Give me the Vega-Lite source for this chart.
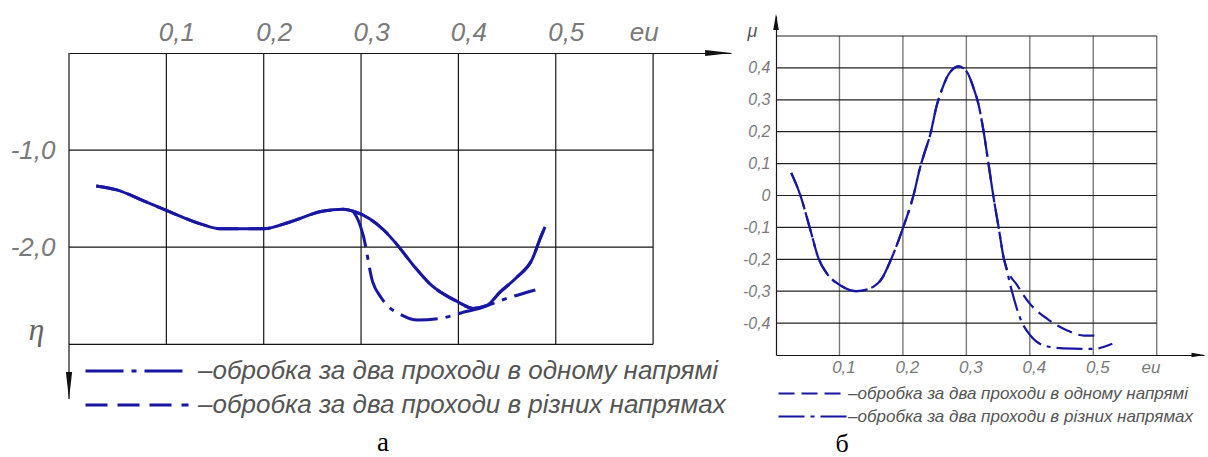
{
  "$schema": "https://vega.github.io/schema/vega-lite/v6.json",
  "background": "white",
  "padding": {"left": 10, "top": 14, "right": 0, "bottom": 0},
  "spacing": 10,
  "config": {
    "view": {"stroke": null},
    "axis": {"grid": false, "ticks": false, "tickSize": 0, "labelFlush": false, "labelOverlap": false}
  },
  "resolve": {
    "scale": {"x": "independent", "y": "independent", "strokeDash": "independent"},
    "legend": {"strokeDash": "independent"},
    "axis": {"x": "independent", "y": "independent"}
  },
  "datasets": {
    "leftV": [
      {"x": 0, "y": 0, "y2": -3.563},
      {"x": 0.1, "y": 0, "y2": -3},
      {"x": 0.2, "y": 0, "y2": -3},
      {"x": 0.3, "y": 0, "y2": -3},
      {"x": 0.4, "y": 0, "y2": -3},
      {"x": 0.5, "y": 0, "y2": -3},
      {"x": 0.6, "y": 0, "y2": -3}
    ],
    "leftH": [
      {"y": -1, "x": 0, "x2": 0.6},
      {"y": -2, "x": 0, "x2": 0.6},
      {"y": -3, "x": 0, "x2": 0.6}
    ],
    "leftCurves": [
      {"series": "обробка за два проходи в різних напрямах", "x": 0.028, "y": -1.37},
      {"series": "обробка за два проходи в різних напрямах", "x": 0.049, "y": -1.41},
      {"series": "обробка за два проходи в різних напрямах", "x": 0.076, "y": -1.52},
      {"series": "обробка за два проходи в різних напрямах", "x": 0.1, "y": -1.62},
      {"series": "обробка за два проходи в різних напрямах", "x": 0.135, "y": -1.76},
      {"series": "обробка за два проходи в різних напрямах", "x": 0.155, "y": -1.81},
      {"series": "обробка за два проходи в різних напрямах", "x": 0.2, "y": -1.81},
      {"series": "обробка за два проходи в різних напрямах", "x": 0.227, "y": -1.74},
      {"series": "обробка за два проходи в різних напрямах", "x": 0.26, "y": -1.63},
      {"series": "обробка за два проходи в різних напрямах", "x": 0.282, "y": -1.61},
      {"series": "обробка за два проходи в різних напрямах", "x": 0.292, "y": -1.63},
      {"series": "обробка за два проходи в різних напрямах", "x": 0.323, "y": -1.82},
      {"series": "обробка за два проходи в різних напрямах", "x": 0.335, "y": -1.95},
      {"series": "обробка за два проходи в різних напрямах", "x": 0.354, "y": -2.19},
      {"series": "обробка за два проходи в різних напрямах", "x": 0.371, "y": -2.38},
      {"series": "обробка за два проходи в різних напрямах", "x": 0.399, "y": -2.56},
      {"series": "обробка за два проходи в різних напрямах", "x": 0.415, "y": -2.63},
      {"series": "обробка за два проходи в різних напрямах", "x": 0.429, "y": -2.6},
      {"series": "обробка за два проходи в різних напрямах", "x": 0.443, "y": -2.46},
      {"series": "обробка за два проходи в різних напрямах", "x": 0.46, "y": -2.31},
      {"series": "обробка за два проходи в різних напрямах", "x": 0.476, "y": -2.12},
      {"series": "обробка за два проходи в різних напрямах", "x": 0.484, "y": -1.91},
      {"series": "обробка за два проходи в різних напрямах", "x": 0.489, "y": -1.79},
      {"series": "обробка за два проходи в одному напрямі", "x": 0.292, "y": -1.63},
      {"series": "обробка за два проходи в одному напрямі", "x": 0.297, "y": -1.72},
      {"series": "обробка за два проходи в одному напрямі", "x": 0.302, "y": -1.87},
      {"series": "обробка за два проходи в одному напрямі", "x": 0.312, "y": -2.36},
      {"series": "обробка за два проходи в одному напрямі", "x": 0.32, "y": -2.51},
      {"series": "обробка за два проходи в одному напрямі", "x": 0.327, "y": -2.6},
      {"series": "обробка за два проходи в одному напрямі", "x": 0.34, "y": -2.69},
      {"series": "обробка за два проходи в одному напрямі", "x": 0.358, "y": -2.75},
      {"series": "обробка за два проходи в одному напрямі", "x": 0.383, "y": -2.73},
      {"series": "обробка за два проходи в одному напрямі", "x": 0.405, "y": -2.67},
      {"series": "обробка за два проходи в одному напрямі", "x": 0.422, "y": -2.63},
      {"series": "обробка за два проходи в одному напрямі", "x": 0.443, "y": -2.55},
      {"series": "обробка за два проходи в одному напрямі", "x": 0.479, "y": -2.44}
    ],
    "leftArrowX": [{"x": 0.667, "y": 0}],
    "leftArrowY": [{"x": 0, "y": -3.424}],
    "rightV": [
      {"x": 0.1, "y": -0.5, "y2": 0.5},
      {"x": 0.2, "y": -0.5, "y2": 0.5},
      {"x": 0.3, "y": -0.5, "y2": 0.5},
      {"x": 0.4, "y": -0.5, "y2": 0.5},
      {"x": 0.5, "y": -0.5, "y2": 0.5},
      {"x": 0.6, "y": -0.5, "y2": 0.5}
    ],
    "rightH": [
      {"y": -0.4, "x": 0, "x2": 0.6},
      {"y": -0.3, "x": 0, "x2": 0.6},
      {"y": -0.2, "x": 0, "x2": 0.6},
      {"y": -0.1, "x": 0, "x2": 0.6},
      {"y": 0, "x": 0, "x2": 0.6},
      {"y": 0.1, "x": 0, "x2": 0.6},
      {"y": 0.2, "x": 0, "x2": 0.6},
      {"y": 0.3, "x": 0, "x2": 0.6},
      {"y": 0.4, "x": 0, "x2": 0.6},
      {"y": 0.5, "x": 0, "x2": 0.6}
    ],
    "rightCurves": [
      {"series": "обробка за два проходи в одному напрямі", "x": 0.024, "y": 0.071},
      {"series": "обробка за два проходи в одному напрямі", "x": 0.038, "y": 0.003},
      {"series": "обробка за два проходи в одному напрямі", "x": 0.054, "y": -0.107},
      {"series": "обробка за два проходи в одному напрямі", "x": 0.067, "y": -0.197},
      {"series": "обробка за два проходи в одному напрямі", "x": 0.08, "y": -0.244},
      {"series": "обробка за два проходи в одному напрямі", "x": 0.101, "y": -0.281},
      {"series": "обробка за два проходи в одному напрямі", "x": 0.127, "y": -0.3},
      {"series": "обробка за два проходи в одному напрямі", "x": 0.148, "y": -0.291},
      {"series": "обробка за два проходи в одному напрямі", "x": 0.167, "y": -0.26},
      {"series": "обробка за два проходи в одному напрямі", "x": 0.182, "y": -0.197},
      {"series": "обробка за два проходи в одному напрямі", "x": 0.201, "y": -0.097},
      {"series": "обробка за два проходи в одному напрямі", "x": 0.217, "y": 0.003},
      {"series": "обробка за два проходи в одному напрямі", "x": 0.227, "y": 0.087},
      {"series": "обробка за два проходи в одному напрямі", "x": 0.235, "y": 0.14},
      {"series": "обробка за два проходи в одному напрямі", "x": 0.243, "y": 0.19},
      {"series": "обробка за два проходи в одному напрямі", "x": 0.253, "y": 0.28},
      {"series": "обробка за два проходи в одному напрямі", "x": 0.262, "y": 0.335},
      {"series": "обробка за два проходи в одному напрямі", "x": 0.272, "y": 0.38},
      {"series": "обробка за два проходи в одному напрямі", "x": 0.288, "y": 0.405},
      {"series": "обробка за два проходи в одному напрямі", "x": 0.301, "y": 0.387},
      {"series": "обробка за два проходи в одному напрямі", "x": 0.311, "y": 0.339},
      {"series": "обробка за два проходи в одному напрямі", "x": 0.319, "y": 0.287},
      {"series": "обробка за два проходи в одному напрямі", "x": 0.327, "y": 0.203},
      {"series": "обробка за два проходи в одному напрямі", "x": 0.335, "y": 0.098},
      {"series": "обробка за два проходи в одному напрямі", "x": 0.343, "y": -0.008},
      {"series": "обробка за два проходи в одному напрямі", "x": 0.351, "y": -0.102},
      {"series": "обробка за два проходи в одному напрямі", "x": 0.359, "y": -0.197},
      {"series": "обробка за два проходи в одному напрямі", "x": 0.362, "y": -0.22},
      {"series": "обробка за два проходи в одному напрямі", "x": 0.38, "y": -0.281},
      {"series": "обробка за два проходи в одному напрямі", "x": 0.4, "y": -0.339},
      {"series": "обробка за два проходи в одному напрямі", "x": 0.427, "y": -0.386},
      {"series": "обробка за два проходи в одному напрямі", "x": 0.459, "y": -0.423},
      {"series": "обробка за два проходи в одному напрямі", "x": 0.485, "y": -0.439},
      {"series": "обробка за два проходи в одному напрямі", "x": 0.511, "y": -0.439},
      {"series": "обробка за два проходи в різних напрямах", "x": 0.024, "y": 0.071},
      {"series": "обробка за два проходи в різних напрямах", "x": 0.038, "y": 0.003},
      {"series": "обробка за два проходи в різних напрямах", "x": 0.054, "y": -0.107},
      {"series": "обробка за два проходи в різних напрямах", "x": 0.067, "y": -0.197},
      {"series": "обробка за два проходи в різних напрямах", "x": 0.08, "y": -0.244},
      {"series": "обробка за два проходи в різних напрямах", "x": 0.101, "y": -0.281},
      {"series": "обробка за два проходи в різних напрямах", "x": 0.127, "y": -0.3},
      {"series": "обробка за два проходи в різних напрямах", "x": 0.148, "y": -0.291},
      {"series": "обробка за два проходи в різних напрямах", "x": 0.167, "y": -0.26},
      {"series": "обробка за два проходи в різних напрямах", "x": 0.182, "y": -0.197},
      {"series": "обробка за два проходи в різних напрямах", "x": 0.201, "y": -0.097},
      {"series": "обробка за два проходи в різних напрямах", "x": 0.217, "y": 0.003},
      {"series": "обробка за два проходи в різних напрямах", "x": 0.227, "y": 0.087},
      {"series": "обробка за два проходи в різних напрямах", "x": 0.235, "y": 0.14},
      {"series": "обробка за два проходи в різних напрямах", "x": 0.243, "y": 0.19},
      {"series": "обробка за два проходи в різних напрямах", "x": 0.253, "y": 0.28},
      {"series": "обробка за два проходи в різних напрямах", "x": 0.262, "y": 0.335},
      {"series": "обробка за два проходи в різних напрямах", "x": 0.272, "y": 0.38},
      {"series": "обробка за два проходи в різних напрямах", "x": 0.288, "y": 0.405},
      {"series": "обробка за два проходи в різних напрямах", "x": 0.301, "y": 0.387},
      {"series": "обробка за два проходи в різних напрямах", "x": 0.311, "y": 0.339},
      {"series": "обробка за два проходи в різних напрямах", "x": 0.319, "y": 0.287},
      {"series": "обробка за два проходи в різних напрямах", "x": 0.327, "y": 0.203},
      {"series": "обробка за два проходи в різних напрямах", "x": 0.335, "y": 0.098},
      {"series": "обробка за два проходи в різних напрямах", "x": 0.343, "y": -0.008},
      {"series": "обробка за два проходи в різних напрямах", "x": 0.351, "y": -0.102},
      {"series": "обробка за два проходи в різних напрямах", "x": 0.359, "y": -0.197},
      {"series": "обробка за два проходи в різних напрямах", "x": 0.362, "y": -0.22},
      {"series": "обробка за два проходи в різних напрямах", "x": 0.372, "y": -0.302},
      {"series": "обробка за два проходи в різних напрямах", "x": 0.385, "y": -0.386},
      {"series": "обробка за два проходи в різних напрямах", "x": 0.401, "y": -0.439},
      {"series": "обробка за два проходи в різних напрямах", "x": 0.422, "y": -0.47},
      {"series": "обробка за два проходи в різних напрямах", "x": 0.453, "y": -0.479},
      {"series": "обробка за два проходи в різних напрямах", "x": 0.501, "y": -0.481},
      {"series": "обробка за два проходи в різних напрямах", "x": 0.516, "y": -0.475},
      {"series": "обробка за два проходи в різних напрямах", "x": 0.53, "y": -0.465}
    ],
    "rightArrowX": [{"x": 0.665, "y": -0.5}],
    "rightArrowY": [{"x": 0, "y": 0.5435}]
  },
  "hconcat": [
    {
      "width": 662,
      "height": 383,
      "title": {"text": "а", "orient": "bottom", "anchor": "middle", "frame": "group", "dx": -17, "offset": 12, "font": "Liberation Serif", "fontSize": 27, "fontWeight": "normal", "color": "#000000"},
      "layer": [
        {
          "data": {"name": "leftV"},
          "mark": {"type": "rule", "color": "#151515", "strokeWidth": 1.2},
          "encoding": {
            "x": {"field": "x", "type": "quantitative", "scale": {"domain": [0, 0.68], "nice": false, "zero": false},
              "axis": {"orient": "top", "offset": -37, "values": [0.1, 0.2, 0.3, 0.4, 0.5, 0.58],
                "labelExpr": "datum.value > 0.55 ? 'eи' : replace(format(datum.value, '.1f'), '.', ',')",
                "labelFont": "Liberation Sans", "labelFontStyle": "italic", "labelFontSize": 26, "labelColor": "#7a7a7a",
                "labelPadding": 13, "labelBaseline": "alphabetic", "labelOffset": 10,
                "ticks": false, "tickSize": 0, "grid": false, "domain": true, "domainColor": "#151515", "domainWidth": 1.2, "title": null}},
            "y": {"field": "y", "type": "quantitative", "scale": {"domain": [-3.563, 0.381], "nice": false, "zero": false},
              "axis": {"orient": "left", "values": [-1, -2],
                "labelExpr": "replace(replace(format(datum.value, '.1f'), '.', ','), '−', '-')",
                "labelFont": "Liberation Sans", "labelFontStyle": "italic", "labelFontSize": 26, "labelColor": "#7a7a7a",
                "labelPadding": 14, "labelBaseline": "middle",
                "ticks": false, "tickSize": 0, "grid": false, "domain": false,
                "title": "η", "titleFont": "Liberation Serif", "titleFontStyle": "italic", "titleFontWeight": "normal", "titleFontSize": 32, "titleColor": "#666666",
                "titleAngle": 0, "titleX": -33, "titleY": 313, "titleAlign": "center", "titleBaseline": "middle"}},
            "y2": {"field": "y2"}
          }
        },
        {
          "data": {"name": "leftH"},
          "mark": {"type": "rule", "color": "#151515", "strokeWidth": 1.2},
          "encoding": {
            "x": {"field": "x", "type": "quantitative", "scale": {"domain": [0, 0.68], "nice": false, "zero": false}},
            "x2": {"field": "x2"},
            "y": {"field": "y", "type": "quantitative", "scale": {"domain": [-3.563, 0.381], "nice": false, "zero": false}}
          }
        },
        {
          "data": {"name": "leftCurves"},
          "mark": {"type": "line", "color": "#1717a3", "strokeWidth": 3, "interpolate": "monotone"},
          "encoding": {
            "x": {"field": "x", "type": "quantitative", "scale": {"domain": [0, 0.68], "nice": false, "zero": false}},
            "y": {"field": "y", "type": "quantitative", "scale": {"domain": [-3.563, 0.381], "nice": false, "zero": false}},
            "strokeDash": {"field": "series", "type": "nominal",
              "scale": {"domain": ["обробка за два проходи в одному напрямі", "обробка за два проходи в різних напрямах"], "range": [[38, 8, 5, 8], [22, 10]]},
              "legend": {"title": null, "orient": "none", "legendX": 55, "legendY": 342, "direction": "vertical",
                "symbolType": "M-10.3,0H10.3", "symbolSize": 100, "symbolStrokeWidth": 3, "symbolStrokeColor": "#1717a3",
                "labelFont": "Liberation Sans", "labelFontStyle": "italic", "labelFontSize": 26, "labelColor": "#555555",
                "labelLimit": 700, "labelOffset": 48, "rowPadding": 8, "padding": 0,
                "labelExpr": "'–' + datum.label"}}
          }
        },
        {
          "data": {"name": "leftCurves"},
          "transform": [{"filter": {"field": "series", "equal": "обробка за два проходи в різних напрямах"}}],
          "mark": {"type": "line", "color": "#1717a3", "strokeWidth": 3, "interpolate": "monotone"},
          "encoding": {
            "x": {"field": "x", "type": "quantitative", "scale": {"domain": [0, 0.68], "nice": false, "zero": false}},
            "y": {"field": "y", "type": "quantitative", "scale": {"domain": [-3.563, 0.381], "nice": false, "zero": false}}
          }
        },
        {
          "data": {"name": "leftArrowX"},
          "mark": {"type": "point", "shape": "M-1,-0.23L1,0L-1,0.23Z", "size": 700, "filled": true, "color": "#111111", "opacity": 1},
          "encoding": {
            "x": {"field": "x", "type": "quantitative", "scale": {"domain": [0, 0.68], "nice": false, "zero": false}},
            "y": {"field": "y", "type": "quantitative", "scale": {"domain": [-3.563, 0.381], "nice": false, "zero": false}}
          }
        },
        {
          "data": {"name": "leftArrowY"},
          "mark": {"type": "point", "shape": "M-0.23,-1L0,1L0.23,-1Z", "size": 729, "filled": true, "color": "#111111", "opacity": 1},
          "encoding": {
            "x": {"field": "x", "type": "quantitative", "scale": {"domain": [0, 0.68], "nice": false, "zero": false}},
            "y": {"field": "y", "type": "quantitative", "scale": {"domain": [-3.563, 0.381], "nice": false, "zero": false}}
          }
        }
      ]
    },
    {
      "width": 428,
      "height": 339,
      "title": {"text": "б", "orient": "bottom", "anchor": "middle", "frame": "group", "dx": -148, "offset": 6, "font": "Liberation Serif", "fontSize": 26, "fontWeight": "normal", "color": "#000000"},
      "layer": [
        {
          "data": {"name": "rightV"},
          "mark": {"type": "rule", "color": "#7a7a7a", "strokeWidth": 1.4},
          "encoding": {
            "x": {"field": "x", "type": "quantitative", "scale": {"domain": [0, 0.6745], "nice": false, "zero": false},
              "axis": {"orient": "bottom", "values": [0.1, 0.2, 0.3, 0.4, 0.5, 0.584],
                "labelExpr": "datum.value > 0.55 ? 'eи' : replace(format(datum.value, '.1f'), '.', ',')",
                "labelFont": "Liberation Sans", "labelFontStyle": "italic", "labelFontSize": 17, "labelColor": "#7a7a7a",
                "labelPadding": 4, "labelBaseline": "top", "labelOffset": 4,
                "ticks": false, "tickSize": 0, "grid": false, "domain": true, "domainColor": "#151515", "domainWidth": 1.2, "title": null}},
            "y": {"field": "y", "type": "quantitative", "scale": {"domain": [-0.5, 0.5627], "nice": false, "zero": false},
              "axis": {"orient": "left", "values": [-0.4, -0.3, -0.2, -0.1, 0, 0.1, 0.2, 0.3, 0.4],
                "labelExpr": "datum.value == 0 ? '0' : replace(replace(format(datum.value, '.1f'), '.', ','), '−', '-')",
                "labelFont": "Liberation Sans", "labelFontStyle": "italic", "labelFontSize": 16, "labelColor": "#7a7a7a",
                "labelPadding": 6, "labelBaseline": "middle",
                "ticks": false, "tickSize": 0, "grid": false, "domain": true, "domainColor": "#151515", "domainWidth": 1.2,
                "title": "μ", "titleFont": "Liberation Sans", "titleFontStyle": "italic", "titleFontWeight": "normal", "titleFontSize": 18, "titleColor": "#555555",
                "titleAngle": 0, "titleX": -24, "titleY": 15, "titleAlign": "center", "titleBaseline": "middle"}},
            "y2": {"field": "y2"}
          }
        },
        {
          "data": {"name": "rightH"},
          "mark": {"type": "rule", "color": "#222222", "strokeWidth": 1.2},
          "encoding": {
            "x": {"field": "x", "type": "quantitative", "scale": {"domain": [0, 0.6745], "nice": false, "zero": false}},
            "x2": {"field": "x2"},
            "y": {"field": "y", "type": "quantitative", "scale": {"domain": [-0.5, 0.5627], "nice": false, "zero": false}}
          }
        },
        {
          "data": {"name": "rightCurves"},
          "mark": {"type": "line", "color": "#1717a3", "strokeWidth": 2.2, "interpolate": "monotone"},
          "encoding": {
            "x": {"field": "x", "type": "quantitative", "scale": {"domain": [0, 0.6745], "nice": false, "zero": false}},
            "y": {"field": "y", "type": "quantitative", "scale": {"domain": [-0.5, 0.5627], "nice": false, "zero": false}},
            "strokeDash": {"field": "series", "type": "nominal",
              "scale": {"domain": ["обробка за два проходи в одному напрямі", "обробка за два проходи в різних напрямах"], "range": [[16, 7], [26, 6, 4, 6]]},
              "legend": {"title": null, "orient": "none", "legendX": 28, "legendY": 369, "direction": "vertical",
                "symbolType": "M-6.8,0H6.8", "symbolSize": 100, "symbolStrokeWidth": 2.2, "symbolStrokeColor": "#1717a3",
                "labelFont": "Liberation Sans", "labelFontStyle": "italic", "labelFontSize": 17, "labelColor": "#555555",
                "labelLimit": 500, "labelOffset": 27, "rowPadding": 5, "padding": 0,
                "labelExpr": "'–' + datum.label"}}
          }
        },
        {
          "data": {"name": "rightArrowX"},
          "mark": {"type": "point", "shape": "M-1,-0.35L1,0L-1,0.35Z", "size": 169, "filled": true, "color": "#111111", "opacity": 1},
          "encoding": {
            "x": {"field": "x", "type": "quantitative", "scale": {"domain": [0, 0.6745], "nice": false, "zero": false}},
            "y": {"field": "y", "type": "quantitative", "scale": {"domain": [-0.5, 0.5627], "nice": false, "zero": false}}
          }
        },
        {
          "data": {"name": "rightArrowY"},
          "mark": {"type": "point", "shape": "M-0.35,1L0,-1L0.35,1Z", "size": 256, "filled": true, "color": "#111111", "opacity": 1},
          "encoding": {
            "x": {"field": "x", "type": "quantitative", "scale": {"domain": [0, 0.6745], "nice": false, "zero": false}},
            "y": {"field": "y", "type": "quantitative", "scale": {"domain": [-0.5, 0.5627], "nice": false, "zero": false}}
          }
        }
      ]
    }
  ]
}
